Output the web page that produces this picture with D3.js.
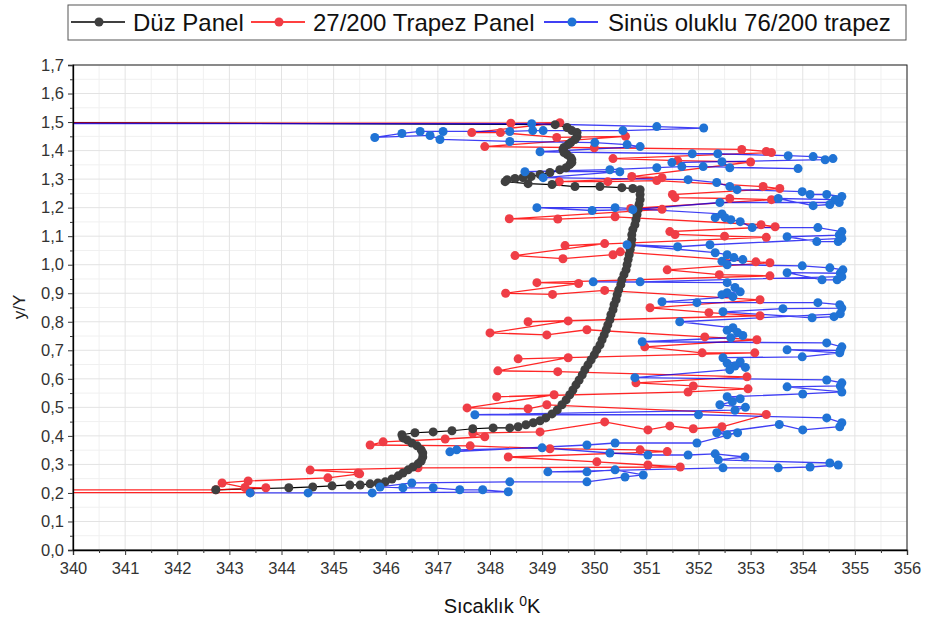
<!DOCTYPE html>
<html><head><meta charset="utf-8">
<script src="https://cdn.jsdelivr.net/npm/d3@7"></script>
<style>
body{margin:0;background:#fff}
svg{display:block}
text{font-family:"Liberation Sans",Arial,sans-serif}
</style>
</head><body>
<svg id="chart" width="928" height="618"></svg>
<script>
// ---------- DATA ----------
const seriesNames = ["Düz Panel", "27/200 Trapez Panel", "Sinüs oluklu 76/200 trapez"];
const xTickValues = [340,341,342,343,344,345,346,347,348,349,350,351,352,353,354,355,356];
const yTickValues = [0,0.1,0.2,0.3,0.4,0.5,0.6,0.7,0.8,0.9,1.0,1.1,1.2,1.3,1.4,1.5,1.6,1.7];
const xMinorValues = [340.5,341.5,342.5,343.5,344.5,345.5,346.5,347.5,348.5,349.5,350.5,351.5,352.5,353.5,354.5,355.5];
const yMinorValues = [0.05,0.15,0.25,0.35,0.45,0.55,0.65,0.75,0.85,0.95,1.05,1.15,1.25,1.35,1.45,1.55,1.65];

// Düz Panel (temperature, y/Y)
const duzPanel = [
[339.0,1.499],[349.25,1.491],[349.48,1.481],[349.57,1.470],[349.67,1.463],[349.67,1.449],[349.63,1.439],
[349.55,1.428],[349.50,1.421],[349.42,1.411],[349.40,1.404],[349.42,1.393],[349.48,1.386],[349.55,1.375],
[349.57,1.368],[349.57,1.358],[349.53,1.351],[349.46,1.340],[349.34,1.333],[349.15,1.323],[348.96,1.316],
[348.79,1.309],[348.63,1.305],[348.48,1.302],[348.33,1.298],[348.29,1.291],
[348.73,1.284],[349.19,1.281],[349.63,1.274],[350.11,1.274],[350.53,1.270],[350.74,1.267],
[350.88,1.263],[350.88,1.246],[350.88,1.228],[350.86,1.211],[350.84,1.193],[350.82,1.175],[350.80,1.158],
[350.78,1.140],[350.74,1.123],[350.72,1.105],[350.72,1.088],[350.71,1.070],[350.69,1.053],[350.67,1.035],
[350.65,1.018],[350.63,1.000],[350.61,0.982],[350.57,0.965],[350.53,0.947],[350.51,0.930],[350.47,0.912],
[350.44,0.895],[350.42,0.877],[350.38,0.860],[350.36,0.842],[350.32,0.825],[350.30,0.807],[350.26,0.789],
[350.23,0.772],[350.19,0.754],[350.15,0.737],[350.11,0.719],[350.05,0.702],[350.00,0.684],[349.94,0.667],
[349.88,0.649],[349.82,0.632],[349.77,0.614],[349.71,0.596],[349.65,0.579],[349.59,0.561],[349.53,0.544],
[349.46,0.526],[349.38,0.509],[349.29,0.491],[349.19,0.477],[349.07,0.463],[348.96,0.453],[348.83,0.446],
[348.69,0.439],[348.54,0.432],[348.38,0.428],
[348.06,0.428],[347.67,0.425],[347.27,0.418],[346.91,0.414],[346.56,0.411],
[346.31,0.404],[346.33,0.393],[346.41,0.386],[346.50,0.375],[346.60,0.365],[346.68,0.351],[346.71,0.340],
[346.71,0.326],[346.68,0.312],[346.62,0.302],[346.52,0.291],[346.43,0.281],[346.33,0.270],[346.24,0.260],
[346.12,0.249],[345.99,0.239],[345.85,0.235],[345.70,0.232],
[345.51,0.228],[345.31,0.228],[344.97,0.225],[344.60,0.221],[344.14,0.218],[342.74,0.211]
];

// 27/200 Trapez Panel
const trapezPanel = [
[339.0,1.497],[348.40,1.496],[349.34,1.498],[347.65,1.463],[348.20,1.463],[349.28,1.446],[350.60,1.450],
[347.90,1.414],[350.00,1.410],[352.83,1.404],[353.30,1.397],[353.40,1.393],[350.36,1.372],[351.60,1.365],
[353.00,1.360],[350.72,1.309],[351.30,1.305],[349.33,1.291],[350.26,1.291],[351.20,1.295],
[353.24,1.274],[353.56,1.267],[351.50,1.246],[351.55,1.235],[352.60,1.232],[353.40,1.228],[350.70,1.197],
[351.30,1.194],[348.37,1.161],[349.30,1.160],[350.40,1.168],
[353.20,1.140],[353.47,1.133],[351.45,1.116],[351.55,1.106],[352.50,1.100],[353.30,1.096],[349.44,1.067],
[350.20,1.074],[348.48,1.032],[349.40,1.021],[350.36,1.035],[350.50,1.045],
[353.10,1.010],[353.37,1.007],[351.40,0.982],[352.40,0.965],[353.37,0.961],[348.90,0.937],[349.70,0.934],
[348.30,0.900],[349.20,0.896],[350.20,0.910],
[353.18,0.877],[351.07,0.849],[352.20,0.832],[353.18,0.821],[348.73,0.800],[349.50,0.803],[348.00,0.761],
[349.09,0.754],[349.86,0.772],
[352.12,0.747],[353.12,0.737],[350.97,0.712],[352.07,0.691],[353.08,0.691],[348.54,0.670],[349.50,0.674],
[348.15,0.628],[349.30,0.625],
[352.93,0.607],[350.80,0.586],[351.90,0.575],[352.95,0.565],[351.80,0.554],[348.13,0.537],[349.23,0.544],
[347.56,0.498],[348.73,0.495],[349.09,0.509],
[353.30,0.475],[352.45,0.432],[351.90,0.425],[351.45,0.435],[351.03,0.421],[350.20,0.449],[348.96,0.414],
[347.67,0.410],[347.90,0.397],[347.14,0.389],[345.95,0.379],[345.70,0.368],[347.62,0.365],[349.15,0.355],
[350.88,0.351],[351.40,0.345],[348.35,0.326],[350.05,0.309],[351.03,0.298],[351.65,0.291],[346.62,0.288],
[344.55,0.280],[345.47,0.270],[345.50,0.267],[344.89,0.253],[343.36,0.242],[342.86,0.235],[343.30,0.219],
[343.70,0.218],[342.74,0.211],[339.0,0.211],[339.0,0.201],[343.40,0.201]
];

// Sinüs oluklu 76/200 trapez
const sinusTrapez = [
[339.0,1.495],[348.80,1.494],[351.20,1.484],[352.10,1.479],[350.55,1.470],[349.02,1.470],[348.82,1.470],
[348.38,1.467],[347.10,1.467],[346.66,1.467],[346.31,1.460],[345.79,1.446],[346.85,1.453],[347.04,1.439],
[348.38,1.432],[350.01,1.428],[350.63,1.421],[350.88,1.414],[348.96,1.396],[351.88,1.389],[352.37,1.389],
[353.72,1.382],[354.20,1.379],[354.58,1.372],[354.43,1.368],[351.49,1.358],[352.45,1.361],[352.60,1.340],
[353.91,1.337],[352.09,1.344],[351.68,1.344],[351.20,1.340],[350.30,1.333],[348.67,1.326],[350.49,1.326],
[349.02,1.305],[351.80,1.298],[352.35,1.288],[352.60,1.274],[352.74,1.263],[353.99,1.256],[354.14,1.246],
[354.46,1.246],[354.75,1.239],[354.62,1.228],[353.53,1.232],[354.20,1.207],[354.52,1.211],[354.70,1.218],
[352.41,1.218],[350.74,1.193],[349.96,1.190],[348.90,1.200],[350.40,1.200],[352.45,1.178],[352.32,1.165],
[352.51,1.165],[352.62,1.158],[352.80,1.151],[353.03,1.130],[354.29,1.130],[354.75,1.116],[354.70,1.104],
[353.70,1.098],[354.27,1.081],[354.68,1.081],[354.75,1.092],[352.22,1.070],[351.60,1.063],[350.63,1.070],
[352.32,1.042],[352.55,1.035],[352.68,1.025],[352.85,1.018],[352.45,1.012],[352.55,1.000],[353.99,0.996],
[354.52,0.989],[354.77,0.982],[354.72,0.970],[353.70,0.972],[354.37,0.947],[354.66,0.947],[354.75,0.958],
[350.88,0.940],[349.98,0.940],[352.55,0.937],[352.70,0.920],[352.80,0.905],[352.55,0.902],[352.45,0.895],
[352.66,0.888],[351.30,0.870],[351.97,0.867],[354.29,0.867],[354.71,0.860],[354.75,0.848],[353.62,0.846],
[352.47,0.835],[354.18,0.814],[354.60,0.818],[354.72,0.828],[351.64,0.800],[352.66,0.779],[352.55,0.770],
[352.75,0.762],[352.85,0.752],[352.62,0.744],[350.92,0.730],[354.46,0.726],[354.75,0.712],[354.72,0.700],
[353.70,0.702],[354.71,0.691],[353.99,0.677],[352.47,0.674],[352.55,0.655],[352.80,0.660],[352.90,0.640],
[352.70,0.645],[352.60,0.632],[350.78,0.604],[354.46,0.596],[354.75,0.586],[354.72,0.575],[353.70,0.572],
[354.75,0.554],[354.00,0.547],[352.55,0.537],[352.80,0.530],[352.65,0.520],[352.41,0.509],[352.90,0.500],
[352.70,0.490],[347.71,0.474],[352.00,0.474],[354.46,0.463],[354.75,0.446],[354.71,0.432],[354.00,0.421],
[353.55,0.440],[352.35,0.411],[352.55,0.404],[352.75,0.411],[351.97,0.375],[350.40,0.375],[349.86,0.368],
[347.23,0.344],[347.36,0.351],[349.00,0.358],[350.30,0.340],[351.03,0.333],[351.80,0.333],[352.32,0.337],
[352.89,0.326],[352.38,0.316],[354.52,0.305],[354.68,0.298],[354.14,0.291],[353.53,0.288],[352.47,0.288],
[349.11,0.274],[349.86,0.274],[350.40,0.281],[350.94,0.263],[350.59,0.256],[349.86,0.239],[348.38,0.239],
[346.50,0.235],[345.89,0.221],[346.33,0.218],[346.91,0.218],[347.42,0.211],[347.86,0.211],[348.35,0.204],
[345.74,0.200],[344.51,0.200],[343.40,0.200]
];

// ---------- CHART ----------
const svg = d3.select("#chart");
const L = 73, R = 907, T = 65, B = 550;
const x = d3.scaleLinear().domain([340, 356]).range([L, R]);
const y = d3.scaleLinear().domain([0, 1.7]).range([B, T]);

svg.append("rect").attr("width", 928).attr("height", 618).attr("fill", "#fff");

// grid
const grid = svg.append("g");
grid.selectAll(".gxm").data(xMinorValues).join("line")
  .attr("x1", d => x(d)).attr("x2", d => x(d)).attr("y1", T).attr("y2", B)
  .attr("stroke", "#f0f0f0").attr("stroke-width", 1);
grid.selectAll(".gym").data(yMinorValues).join("line")
  .attr("y1", d => y(d)).attr("y2", d => y(d)).attr("x1", L).attr("x2", R)
  .attr("stroke", "#f0f0f0").attr("stroke-width", 1);
grid.selectAll(".gx").data(xTickValues).join("line")
  .attr("x1", d => x(d)).attr("x2", d => x(d)).attr("y1", T).attr("y2", B)
  .attr("stroke", "#e3e3e3").attr("stroke-width", 1);
grid.selectAll(".gy").data(yTickValues).join("line")
  .attr("y1", d => y(d)).attr("y2", d => y(d)).attr("x1", L).attr("x2", R)
  .attr("stroke", "#e3e3e3").attr("stroke-width", 1);

// clip
svg.append("clipPath").attr("id", "plotclip").append("rect")
  .attr("x", L).attr("y", T).attr("width", R - L).attr("height", B - T);
const plot = svg.append("g").attr("clip-path", "url(#plotclip)");

const line = d3.line().x(d => x(d[0])).y(d => y(d[1]));

// lines (black first so the shared 1.5 line reads dark purple)
plot.append("path").datum(duzPanel).attr("d", line)
  .attr("fill", "none").attr("stroke", "#000").attr("stroke-width", 1.2);
plot.append("path").datum(trapezPanel).attr("d", line)
  .attr("fill", "none").attr("stroke", "#ff0000").attr("stroke-width", 1.3).attr("stroke-opacity", 0.85);
plot.append("path").datum(sinusTrapez).attr("d", line)
  .attr("fill", "none").attr("stroke", "#0000f0").attr("stroke-width", 1.3).attr("stroke-opacity", 0.75);
// red dots
plot.append("g").selectAll("circle").data(trapezPanel).join("circle")
  .attr("cx", d => x(d[0])).attr("cy", d => y(d[1])).attr("r", 4.5).attr("fill", "#ef3d46");
// black dots
plot.append("g").selectAll("circle").data(duzPanel).join("circle")
  .attr("cx", d => x(d[0])).attr("cy", d => y(d[1])).attr("r", 4.5).attr("fill", "#3f3f3f");
// blue dots
plot.append("g").selectAll("circle").data(sinusTrapez).join("circle")
  .attr("cx", d => x(d[0])).attr("cy", d => y(d[1])).attr("r", 4.5).attr("fill", "#2073d5");

// frame
svg.append("rect").attr("x", L).attr("y", T).attr("width", R - L).attr("height", B - T)
  .attr("fill", "none").attr("stroke", "#222").attr("stroke-width", 1);

// axes
const fmtY = d => d3.format(".1f")(d).replace(".", ",");
const gx = svg.append("g").attr("transform", `translate(0,${B})`)
  .call(d3.axisBottom(x).tickValues(xTickValues).tickSize(5).tickPadding(7).tickFormat(d3.format("d")));
const gxm = svg.append("g").attr("transform", `translate(0,${B})`)
  .call(d3.axisBottom(x).tickValues(xMinorValues).tickSize(3).tickFormat(""));
const gy = svg.append("g").attr("transform", `translate(${L},0)`)
  .call(d3.axisLeft(y).tickValues(yTickValues).tickSize(5).tickPadding(4).tickFormat(fmtY));
const gym = svg.append("g").attr("transform", `translate(${L},0)`)
  .call(d3.axisLeft(y).tickValues(yMinorValues).tickSize(3).tickFormat(""));
[gx, gy, gxm, gym].forEach(g => {
  g.select(".domain").attr("stroke", "#000").attr("stroke-width", 1.3);
  g.selectAll(".tick line").attr("stroke", "#333");
  g.selectAll("text").attr("fill", "#333").style("font-size", "16.5px")
    .style("font-family", '"Liberation Sans", Arial, sans-serif');
});
gxm.select(".domain").remove(); gym.select(".domain").remove();

// axis titles
svg.append("text").attr("transform", "translate(25,307) rotate(-90)")
  .attr("text-anchor", "middle").attr("fill", "#222").style("font-size", "17px").text("y/Y");
const xt = svg.append("text").attr("x", 492).attr("y", 613).attr("text-anchor", "middle")
  .attr("fill", "#111").style("font-size", "20px");
xt.append("tspan").text("Sıcaklık ");
xt.append("tspan").attr("dy", -7).style("font-size", "14px").text("0");
xt.append("tspan").attr("dy", 7).text("K");

// legend
const lg = svg.append("g");
lg.append("rect").attr("x", 68).attr("y", 5).attr("width", 838).attr("height", 35)
  .attr("fill", "#fff").attr("stroke", "#555").attr("stroke-width", 1);
const legItems = [
  {name: seriesNames[0], line: "#000", dot: "#3f3f3f", x0: 71, tx: 133},
  {name: seriesNames[1], line: "#ff0000", dot: "#ef3d46", x0: 251, tx: 313},
  {name: seriesNames[2], line: "#0000f0", dot: "#2073d5", x0: 544, tx: 608}
];
legItems.forEach(it => {
  lg.append("line").attr("x1", it.x0).attr("x2", it.x0 + 54).attr("y1", 22).attr("y2", 22)
    .attr("stroke", it.line).attr("stroke-width", 1.3);
  lg.append("circle").attr("cx", it.x0 + 28).attr("cy", 22).attr("r", 4.5).attr("fill", it.dot);
  lg.append("text").attr("x", it.tx).attr("y", 30.5).attr("fill", "#111")
    .style("font-size", "24px").text(it.name);
});
</script>
</body></html>
